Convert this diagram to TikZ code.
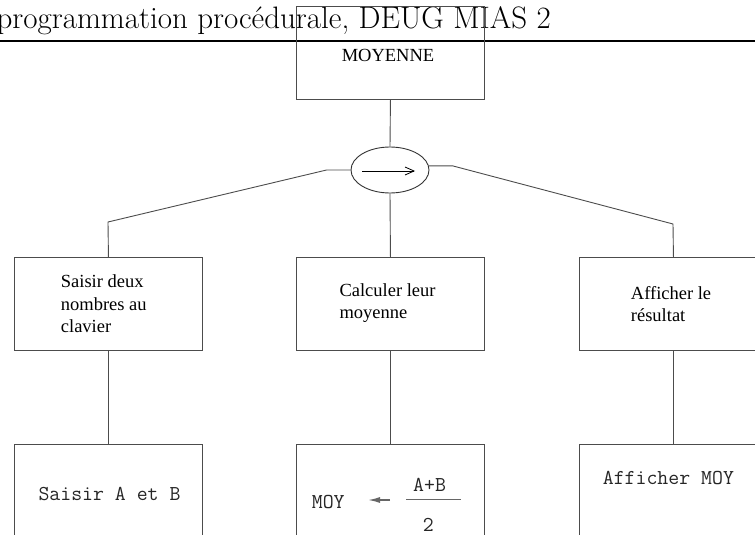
\documentclass[tikz,border=0pt]{standalone}
\usepackage{fontspec}
\newfontfamily\tms{Liberation Serif}
\usetikzlibrary{arrows.meta,shapes.geometric}
\begin{document}
\begin{tikzpicture}[x=1pt,y=-1pt,
  box/.style={draw=black!70, line width=0.9pt, minimum width=188pt, minimum height=93pt, inner sep=0pt, anchor=north west},
  link/.style={draw=black!70, line width=0.9pt},
  lbl/.style={anchor=base west, inner sep=0pt, font=\tms\fontsize{18.5}{22}\selectfont},
  code/.style={anchor=base west, inner sep=0pt, font=\ttfamily\fontsize{21.2}{24}\selectfont, text=black!85}]
\useasboundingbox (0,0) rectangle (755,535);
\clip (0,0) rectangle (755,535);

% running head and rule
\node[anchor=base east, inner sep=0pt, font=\fontsize{31}{34}\selectfont] (hdr) at (551,29) {programmation procédurale, DEUG MIAS 2};
\coordinate (ruleL) at (0,41);
\coordinate (ruleR) at (755,41);
\draw[line width=2pt] (ruleL) -- (ruleR);

% root
\node[box] (top) at (296,6) {};
\node[anchor=base, inner sep=0pt, font=\tms\fontsize{18.5}{22}\selectfont] (topt) at (388,62) {MOYENNE};

% sequence operator
\node[draw=black!80, line width=0.9pt, ellipse, minimum width=78pt, minimum height=46pt, inner sep=0pt] (seq) at (390,170) {};
\coordinate (sa) at (362,171);
\coordinate (sb) at (415,171);
\draw[line width=0.8pt, -{Straight Barb[length=9pt,width=8pt]}] (sa) -- (sb);

% first level
\node[box] (b1) at (14,257) {};
\node[box] (b2) at (296,257) {};
\node[box] (b3) at (579,257) {};

% second level
\node[box] (c1) at (14,444) {};
\node[box] (c2) at (296,444) {};
\node[box] (c3) at (579,444) {};

% connectors
\coordinate (kl) at (108,222);
\coordinate (kr) at (673,224);
\draw[link] (top.south) -- (seq.north);
\draw[link] (seq.west) -- ++(-24,0) -- (kl) -- (b1.north);
\draw[link] (seq.6) -- ++(24,0) -- (kr) -- (b3.north);
\draw[link] (seq.south) -- (b2.north);
\draw[link] (b1.south) -- (c1.north);
\draw[link] (b2.south) -- (c2.north);
\draw[link] (b3.south) -- (c3.north);

% first level texts
\node[lbl] (t1a) at (60.7,287.7) {Saisir deux};
\node[lbl] (t1b) at (60.7,310) {nombres au};
\node[lbl] (t1c) at (60.7,332) {clavier};
\node[lbl] (t2a) at (339.3,296.7) {Calculer leur};
\node[lbl] (t2b) at (339.3,318.5) {moyenne};
\node[lbl] (t3a) at (630.7,299.3) {Afficher le};
\node[lbl] (t3b) at (630.7,321) {résultat};

% second level texts
\node[code] (u1) at (38.3,500) {Saisir A et B};
\node[code] (u2) at (311.7,508.3) {MOY};
\node[code] (u2n) at (413,491.7) {A+B};
\node[code] (u2d) at (422.7,531) {2};
\node[code] (u3) at (602.7,484) {Afficher MOY};
\coordinate (as) at (390,500);
\coordinate (ae) at (368,500);
\draw[black!60, line width=1.5pt, -{Latex[length=12pt,width=6pt]}] (as) -- (ae);
\coordinate (fa) at (406,499.5);
\coordinate (fb) at (461,499.5);
\draw[black!60, line width=1.8pt] (fa) -- (fb);
\end{tikzpicture}
\end{document}
